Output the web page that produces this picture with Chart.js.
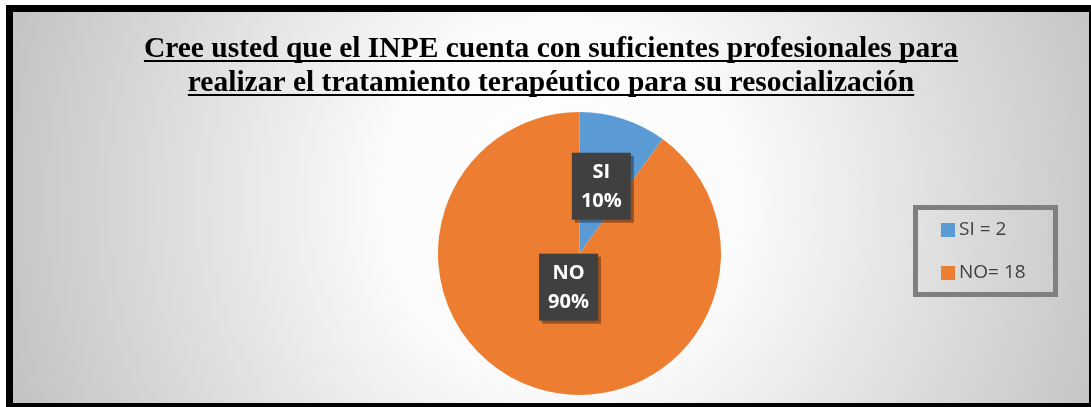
<!DOCTYPE html>
<html><head><meta charset="utf-8">
<script src="https://cdn.jsdelivr.net/npm/chart.js@4/dist/chart.umd.min.js"></script>
<style>html,body{margin:0;padding:0;background:#fff;}canvas{display:block;}</style>
</head><body>
<canvas id="c" width="1091" height="407"></canvas>
<script>
const categories = ['SI', 'NO'];
const values = [2, 18];
const percentLabels = ['10%', '90%'];
const legendLabels = ['SI = 2', 'NO= 18'];
const colors = ['#5B9BD5', '#ED7D31'];
const titleLines = ['Cree usted que el INPE cuenta con suficientes profesionales para',
                    'realizar el tratamiento terapéutico para su resocialización'];
const labelRadius = [0.5, 0.25];

const framePlugin = {
  id: 'frame',
  beforeDraw(chart) {
    const ctx = chart.ctx, W = chart.width, H = chart.height;
    ctx.save();
    ctx.fillStyle = '#ffffff'; ctx.fillRect(0, 0, W, H);
    ctx.fillStyle = '#000000'; ctx.fillRect(6, 5, W - 6, H - 5);
    const g = ctx.createRadialGradient(560, 200, 0, 560, 200, 600);
    g.addColorStop(0, '#ffffff');
    g.addColorStop(0.3, '#fbfbfb');
    g.addColorStop(1, '#c0c0c0');
    ctx.fillStyle = g; ctx.fillRect(13, 12, 1076, 391);
    // title
    ctx.fillStyle = '#000';
    ctx.font = 'bold 29.5px "Liberation Serif", "Times New Roman", serif';
    ctx.textAlign = 'center'; ctx.textBaseline = 'alphabetic';
    const bases = [57, 91];
    titleLines.forEach((t, i) => {
      ctx.fillText(t, 551, bases[i]);
      const w = ctx.measureText(t).width;
      ctx.fillRect(551 - w / 2, bases[i] + 3, w, 2);
    });
    ctx.restore();
  },
  afterDatasetsDraw(chart) {
    const ctx = chart.ctx;
    const meta = chart.getDatasetMeta(0);
    ctx.save();
    meta.data.forEach((arc, i) => {
      const p = arc.getProps(['x', 'y', 'startAngle', 'endAngle', 'outerRadius'], true);
      const mid = (p.startAngle + p.endAngle) / 2;
      const r = p.outerRadius * labelRadius[i];
      const cx = p.x + Math.cos(mid) * r, cy = p.y + Math.sin(mid) * r;
      const bw = 59, bh = 67;
      ctx.fillStyle = 'rgba(0,0,0,0.35)';
      ctx.fillRect(cx - bw / 2 + 3, cy - bh / 2 + 3, bw, bh);
      ctx.fillStyle = '#404040';
      ctx.fillRect(cx - bw / 2, cy - bh / 2, bw, bh);
      ctx.fillStyle = '#ffffff';
      ctx.font = 'bold 20px "Open Sans", "Liberation Sans", sans-serif';
      ctx.textAlign = 'center'; ctx.textBaseline = 'middle';
      ctx.fillText(categories[i], cx, cy - 14);
      ctx.fillText(percentLabels[i], cx, cy + 15);
    });
    // legend
    ctx.strokeStyle = '#7f7f7f'; ctx.lineWidth = 5;
    ctx.strokeRect(915.5, 207.5, 140, 87);
    ctx.font = '19px "Open Sans", "Liberation Sans", sans-serif';
    ctx.textAlign = 'left'; ctx.textBaseline = 'middle';
    const ly = [230, 273];
    legendLabels.forEach((t, i) => {
      ctx.fillStyle = colors[i];
      ctx.fillRect(941, ly[i] - 7, 14, 14);
      ctx.fillStyle = '#404040';
      ctx.fillText(t, 959, ly[i]);
    });
    ctx.restore();
  }
};

new Chart(document.getElementById('c'), {
  type: 'pie',
  data: {
    labels: categories,
    datasets: [{ data: values, backgroundColor: colors, borderWidth: 0 }]
  },
  options: {
    responsive: false,
    animation: false,
    layout: { padding: { top: 112, bottom: 12, left: 438, right: 370 } },
    plugins: { legend: { display: false }, title: { display: false }, tooltip: { enabled: false } }
  },
  plugins: [framePlugin]
});
</script>
</body></html>
